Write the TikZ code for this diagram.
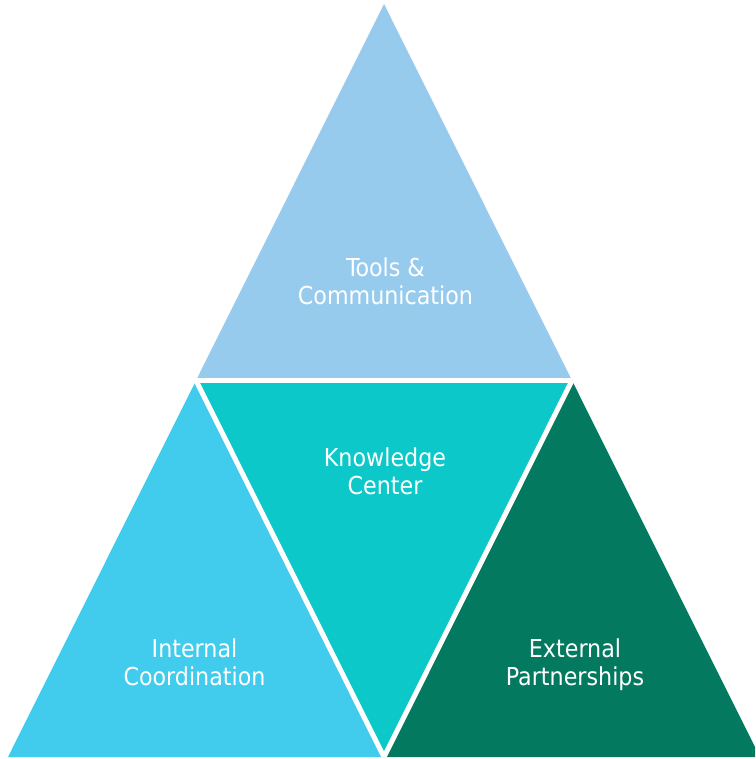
\documentclass[tikz,border=0pt]{standalone}
\usepackage{fontspec}
\setmainfont{DejaVu Sans Condensed}
\begin{document}
\definecolor{toolsblue}{HTML}{97CBEE}
\definecolor{internalblue}{HTML}{41CBED}
\definecolor{knowledgeteal}{HTML}{0CC8C8}
\definecolor{externalgreen}{HTML}{037A60}
\begin{tikzpicture}[x=1pt,y=-1pt,
  label/.style={text=white, align=center, inner sep=0pt,
    font=\fontsize{24.7}{28}\selectfont},
  divider/.style={draw=white, line width=5pt}]
\useasboundingbox (0,0) rectangle (755,759);
\clip (0,0) rectangle (755,759);
% corners of the outer triangle and the midpoints of its sides
\coordinate (apex) at (384,4);
\coordinate (bl) at (8,757);
\coordinate (br) at (760,757);
\coordinate (ml) at (196,380.5);
\coordinate (mr) at (572,380.5);
\coordinate (mb) at (384,757);
% the four sub-triangles
\fill[toolsblue] (apex) -- (ml) -- (mr) -- cycle;
\fill[internalblue] (ml) -- (bl) -- (mb) -- cycle;
\fill[knowledgeteal] (ml) -- (mr) -- (mb) -- cycle;
\fill[externalgreen] (mr) -- (mb) -- (br) -- cycle;
% white gaps between them
\draw[divider] (ml) -- (mr);
\draw[divider] (ml) -- (mb);
\draw[divider] (mr) -- (mb);
% labels
\node[label] (tools) at (385.5,281.6) {Tools \&\\Communication};
\node[label] (knowledge) at (385,471.1) {Knowledge\\Center};
\node[label] (internal) at (194.5,662.1) {Internal\\Coordination};
\node[label] (external) at (575,665) {External\\Partnerships};
\end{tikzpicture}
\end{document}
